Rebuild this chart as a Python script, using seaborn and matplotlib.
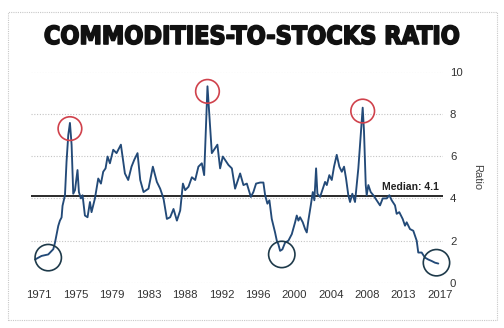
import matplotlib
matplotlib.use("Agg")
import matplotlib.pyplot as plt
import matplotlib.patheffects as pe
import seaborn as sns
import pandas as pd
import numpy as np
from matplotlib.patches import Rectangle

# Commodities-to-stocks ratio over time (fractional years)
years = [
    1970.51, 1971.26, 1972.03, 1972.61, 1972.80, 1973.18, 1973.37, 1973.56, 1973.67, 1973.87,
    1973.95, 1974.13, 1974.33, 1974.52, 1974.71, 1974.90, 1975.10, 1975.39, 1975.55, 1975.78,
    1975.97, 1976.24, 1976.54, 1976.82, 1977.00, 1977.39, 1977.77, 1978.08, 1978.34, 1978.61,
    1978.84, 1979.11, 1979.49, 1979.87, 1980.37, 1980.83, 1981.21, 1981.59, 1981.90, 1982.28,
    1982.59, 1982.97, 1983.54, 1984.04, 1984.50, 1984.88, 1985.26, 1985.65, 1986.03, 1986.41,
    1986.80, 1987.18, 1987.49, 1987.75, 1988.13, 1988.52, 1988.90, 1989.27, 1989.66, 1989.93,
    1990.31, 1990.81, 1991.45, 1991.76, 1992.07, 1992.72, 1993.11, 1993.48, 1994.06, 1994.44,
    1994.83, 1995.29, 1995.58, 1995.89, 1996.35, 1996.73, 1996.93, 1997.19, 1997.42, 1997.69,
    1998.07, 1998.27, 1998.45, 1998.65, 1998.91, 1999.22, 1999.60, 1999.99, 2000.37, 2000.56,
    2000.75, 2000.94, 2001.25, 2001.52, 2001.71, 2001.89, 2002.17, 2002.40, 2002.58, 2002.78,
    2002.93, 2003.24, 2003.55, 2003.81, 2004.01, 2004.30, 2004.58, 2004.84, 2005.15, 2005.45,
    2005.73, 2005.99, 2006.22, 2006.48, 2006.68, 2006.94, 2007.25, 2007.63, 2007.91, 2008.13,
    2008.28, 2008.48, 2008.59, 2008.78, 2009.05, 2009.35, 2009.74, 2010.12, 2010.43, 2010.89,
    2011.19, 2011.46, 2011.84, 2012.03, 2012.33, 2012.72, 2012.99, 2013.18, 2013.56, 2013.94,
    2014.33, 2014.51, 2014.90, 2015.28, 2015.66, 2016.05, 2016.43, 2016.81,
]
ratio = [
    1.11, 1.28, 1.35, 1.60, 1.90, 2.70, 2.95, 3.10, 3.65, 4.00,
    4.15, 5.74, 7.00, 7.57, 6.54, 4.22, 4.39, 5.34, 4.30, 4.00,
    4.15, 3.19, 3.11, 3.83, 3.35, 4.00, 4.94, 4.70, 5.26, 5.42,
    5.98, 5.66, 6.30, 6.14, 6.54, 5.18, 4.87, 5.50, 5.82, 6.14,
    4.87, 4.30, 4.46, 5.50, 4.78, 4.46, 4.00, 3.03, 3.11, 3.50,
    2.95, 3.43, 4.70, 4.39, 4.55, 5.00, 4.87, 5.50, 5.66, 5.10,
    9.30, 6.14, 6.54, 5.42, 5.98, 5.58, 5.42, 4.46, 5.18, 4.63,
    4.70, 4.07, 4.30, 4.70, 4.75, 4.75, 4.15, 3.75, 3.91, 3.03,
    2.39, 2.00, 1.83, 1.52, 1.59, 1.91, 2.00, 2.31, 2.87, 3.19,
    2.95, 3.11, 2.87, 2.55, 2.39, 2.95, 3.67, 4.30, 3.91, 5.42,
    4.22, 4.07, 4.46, 4.78, 4.63, 5.10, 4.87, 5.50, 6.06, 5.50,
    5.26, 5.50, 4.94, 4.15, 3.83, 4.22, 3.83, 5.42, 7.00, 8.29,
    7.18, 4.63, 4.15, 4.63, 4.30, 4.15, 3.91, 3.67, 4.00, 4.00,
    4.15, 3.91, 3.67, 3.27, 3.35, 3.03, 2.71, 2.87, 2.55, 2.47,
    2.00, 1.44, 1.44, 1.20, 1.11, 1.04, 0.96, 0.92,
]

median_value = 4.1
median_label = "Median: 4.1"

# Highlighted extremes
peak_years = [1974.52, 1990.31, 2008.13]
peak_vals = [7.3, 9.06, 8.13]
trough_years = [1972.03, 1998.84, 2016.6]
trough_vals = [1.2, 1.35, 0.96]

tick_labels = ["1971", "1975", "1979", "1983", "1988", "1992",
               "1996", "2000", "2004", "2008", "2013", "2017"]
y_ticks = [0, 2, 4, 6, 8, 10]

df = pd.DataFrame({"year": years, "ratio": ratio})

sns.set_theme(style="white")
plt.rcParams["font.family"] = ["Liberation Sans", "DejaVu Sans"]

fig = plt.figure(figsize=(5.04, 3.28), dpi=100)
ax = fig.add_axes([31 / 504, 1 - 283 / 328, (443 - 31) / 504, (283 - 71.5) / 328])

# outer frame
fig.patches.append(Rectangle((8 / 504, 1 - 320 / 328), 489 / 504, 308 / 328,
                             transform=fig.transFigure, fill=False,
                             edgecolor="#c8c8c8", linewidth=0.8, linestyle=(0, (1, 1))))

ax.set_ylim(0, 10)
ax.set_xlim(1970.05, 2017.35)
for v in y_ticks:
    ax.axhline(v, color="#c4c4c4", linewidth=0.8, linestyle=(0, (1, 1.5)), zorder=0)

ax.axhline(median_value, color="#2a2a2a", linewidth=1.4, zorder=1)
ax.text(2016.9, median_value + 0.2, median_label, ha="right", va="bottom",
        fontsize=7.5, fontweight="bold", color="#222222")

sns.lineplot(data=df, x="year", y="ratio", ax=ax, color="#234a78",
             linewidth=1.35, zorder=3)

ax.scatter(peak_years, peak_vals, s=290, facecolors="none",
           edgecolors="#d0424c", linewidths=1.2, zorder=4, clip_on=False)
ax.scatter(trough_years, trough_vals, s=360, facecolors="none",
           edgecolors="#1e3a4a", linewidths=1.2, zorder=4, clip_on=False)

ax.set_xticks(np.linspace(1971, 2017, len(tick_labels)))
ax.set_xticklabels(tick_labels, fontsize=8.2, color="#333333")
ax.set_yticks(y_ticks)
ax.set_yticklabels([str(v) for v in y_ticks], fontsize=8.2, color="#333333")
ax.yaxis.tick_right()
ax.yaxis.set_label_position("right")
ax.tick_params(axis="both", length=0, pad=5)
ax.set_xlabel("")
ax.set_ylabel("Ratio", rotation=270, fontsize=8, color="#444444", labelpad=14)
for s in ax.spines.values():
    s.set_visible(False)

fig.text(252 / 504, 1 - 37 / 328, "COMMODITIES-TO-STOCKS RATIO",
         ha="center", va="center", fontsize=18, fontweight="black",
         fontstretch="condensed", family=["DejaVu Sans"], color="#111111",
         path_effects=[pe.withStroke(linewidth=1.2, foreground="#111111")])

fig.savefig("out.png", dpi=100)
